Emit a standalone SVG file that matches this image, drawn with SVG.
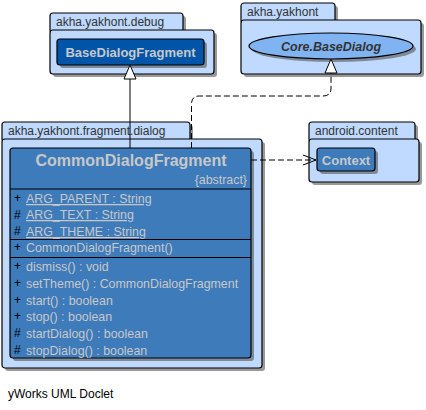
<svg xmlns="http://www.w3.org/2000/svg" width="426" height="410" viewBox="0 0 426 410">
<defs>
<style>
.pkg{fill:#BFD9FF;stroke:#000;stroke-width:1.2}
.sh{fill:#555;opacity:0.6}
.plbl{font-family:"Liberation Sans",Arial,sans-serif;font-size:12px;fill:#333}
.cls{fill:#3D7BBB;stroke:#000;stroke-width:1.2}
.nm{font-family:"Liberation Sans",Arial,sans-serif;font-weight:bold;fill:#C8C8C8}
.mb{font-family:"Liberation Sans",Arial,sans-serif;font-size:12.4px;fill:#C8C8C8}
.vis{font-family:"Liberation Sans",Arial,sans-serif;font-size:12px;fill:#000}
.ul{text-decoration:underline}
.line{fill:none;stroke:#000;stroke-width:1}
.dash{fill:none;stroke:#000;stroke-width:1;stroke-dasharray:6,3}
.tri{fill:#fff;stroke:#000;stroke-width:1}
</style>
</defs>

<g id="pkg-debug">
<rect class="sh" x="53" y="16" width="133" height="20" rx="3"/>
<rect class="sh" x="53" y="33" width="164" height="44" rx="3"/>
<rect class="pkg" x="50" y="13" width="133" height="20" rx="3"/>
<rect class="pkg" x="50" y="30" width="164" height="44" rx="3"/>
<text class="plbl" x="56" y="26">akha.yakhont.debug</text>
</g>
<g id="BaseDialogFragment">
<rect class="sh" x="60" y="42" width="147" height="26" rx="3"/>
<rect x="57" y="39" width="147" height="26" rx="3" fill="#0055A8" stroke="#000" stroke-width="1.2"/>
<text class="nm" x="130.5" y="57" font-size="13" text-anchor="middle">BaseDialogFragment</text>
</g>

<g id="pkg-yakhont">
<rect class="sh" x="244" y="6" width="94" height="20" rx="3"/>
<rect class="sh" x="244" y="23" width="180" height="54" rx="3"/>
<rect class="pkg" x="241" y="3" width="94" height="20" rx="3"/>
<rect class="pkg" x="241" y="20" width="180" height="54" rx="3"/>
<text class="plbl" x="247" y="16">akha.yakhont</text>
</g>
<g id="CoreBaseDialog">
<ellipse cx="334" cy="49" rx="82" ry="13" fill="#555" opacity="0.6"/>
<ellipse cx="331" cy="46" rx="82" ry="13" fill="#80B3F2" stroke="#000" stroke-width="1.2"/>
<text x="331" y="51" font-family="Liberation Sans,Arial,sans-serif" font-size="12.5" font-weight="bold" font-style="italic" fill="#333" text-anchor="middle">Core.BaseDialog</text>
</g>

<g id="pkg-dialog">
<rect class="sh" x="5" y="125" width="188" height="20" rx="3"/>
<rect class="sh" x="5" y="142" width="260" height="229" rx="3"/>
<rect class="pkg" x="2" y="122" width="188" height="20" rx="3"/>
<rect class="pkg" x="2" y="139" width="260" height="229" rx="3"/>
<text class="plbl" x="8" y="135">akha.yakhont.fragment.dialog</text>
</g>
<g id="CommonDialogFragment">
<rect class="sh" x="13" y="151" width="241" height="210" rx="3"/>
<rect class="cls" x="10" y="148" width="241" height="210" rx="3"/>
<text class="nm" x="131" y="166" font-size="16" text-anchor="middle">CommonDialogFragment</text>
<text class="mb" x="247" y="184" text-anchor="end">{abstract}</text>
<line class="line" x1="10" y1="189" x2="251" y2="189"/>
<text class="vis" x="14" y="202">+</text><text class="mb ul" x="26" y="203">ARG_PARENT : String</text>
<text class="vis" x="14" y="219">#</text><text class="mb ul" x="26" y="219">ARG_TEXT : String</text>
<text class="vis" x="14" y="235">#</text><text class="mb ul" x="26" y="236">ARG_THEME : String</text>
<line class="line" x1="10" y1="239.5" x2="251" y2="239.5"/>
<text class="vis" x="14" y="251">+</text><text class="mb" x="26" y="252">CommonDialogFragment()</text>
<line class="line" x1="10" y1="257.5" x2="251" y2="257.5"/>
<text class="vis" x="14" y="270">+</text><text class="mb" x="26" y="271">dismiss() : void</text>
<text class="vis" x="14" y="287">+</text><text class="mb" x="26" y="288">setTheme() : CommonDialogFragment</text>
<text class="vis" x="14" y="304">+</text><text class="mb" x="26" y="305">start() : boolean</text>
<text class="vis" x="14" y="320">+</text><text class="mb" x="26" y="321">stop() : boolean</text>
<text class="vis" x="14" y="337">#</text><text class="mb" x="26" y="338">startDialog() : boolean</text>
<text class="vis" x="14" y="354">#</text><text class="mb" x="26" y="355">stopDialog() : boolean</text>
</g>

<g id="pkg-content">
<rect class="sh" x="312" y="125" width="106" height="20" rx="3"/>
<rect class="sh" x="312" y="142" width="110" height="43" rx="3"/>
<rect class="pkg" x="309" y="122" width="106" height="20" rx="3"/>
<rect class="pkg" x="309" y="139" width="110" height="43" rx="3"/>
<text class="plbl" x="315" y="135">android.content</text>
</g>
<g id="Context">
<rect class="sh" x="320" y="151" width="58" height="23" rx="3"/>
<rect class="cls" x="317" y="148" width="58" height="23" rx="3"/>
<text class="nm" x="346" y="165" font-size="13" text-anchor="middle">Context</text>
</g>

<g id="connectors">
<path class="line" d="M130,148 L130,79"/>
<polygon class="tri" points="130,65 136,79 124,79"/>
<path class="dash" d="M191.5,148 L191.5,104 Q191.5,96 199.5,96 L323,96 Q331,96 331,88 L331,73"/>
<polygon class="tri" points="331,59 337,73 325,73"/>
<path class="dash" d="M251,160 L316,160"/>
<path class="line" d="M303,155 L316,160 L303,165"/>
</g>

<text x="8" y="398" font-family="Liberation Sans,Arial,sans-serif" font-size="12" fill="#000">yWorks UML Doclet</text>
</svg>
